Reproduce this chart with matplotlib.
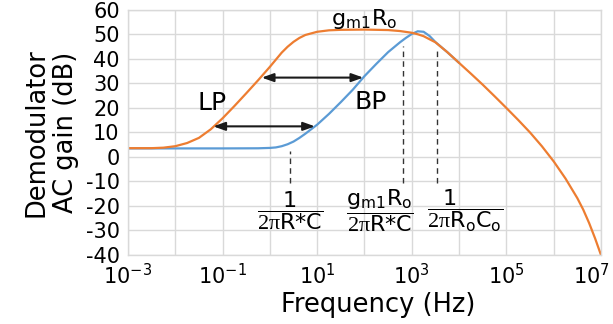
import numpy as np
import matplotlib.pyplot as plt
from matplotlib.transforms import ScaledTranslation

plt.rcParams['font.family'] = 'DejaVu Sans'
plt.rcParams['mathtext.fontset'] = 'custom'
plt.rcParams['mathtext.rm'] = 'Liberation Serif'
plt.rcParams['mathtext.sf'] = 'DejaVu Sans'
plt.rcParams['mathtext.it'] = 'DejaVu Sans:italic'
plt.rcParams['mathtext.bf'] = 'DejaVu Sans:bold'

# low-pass response: log10(f / Hz) and gain in dB
lp_logf = [-3.0, -2.5, -2.25, -2.0, -1.75, -1.5, -1.25, -1.0, -0.75, -0.5, -0.25,
           0.0, 0.25, 0.375, 0.5, 0.625, 0.75, 1.0, 1.25, 1.5, 2.0, 2.5, 2.75, 3.0,
           3.125, 3.25, 3.5, 3.75, 4.0, 4.25, 4.5, 4.75, 5.0, 5.25, 5.5, 5.75, 6.0,
           6.25, 6.5, 6.625, 6.75, 6.875, 7.0]
lp_gain = [3.6, 3.6, 3.8, 4.4, 5.7, 7.8, 11.3, 15.8, 20.8, 26.0, 31.3,
           36.8, 42.6, 45.0, 47.0, 48.6, 49.8, 51.1, 51.7, 51.9, 52.0, 51.8, 51.4, 50.7,
           50.1, 49.3, 46.8, 42.8, 38.4, 34.0, 29.5, 24.8, 20.0, 15.1, 10.0, 4.4, -1.8,
           -8.8, -16.8, -21.5, -27.0, -33.2, -40.0]

# band-pass response
bp_logf = [-3.0, -1.0, -0.25, 0.0, 0.125, 0.25, 0.375, 0.5, 0.625, 0.75, 1.0, 1.25,
           1.5, 1.75, 2.0, 2.25, 2.5, 2.75, 2.875, 3.0, 3.125, 3.25, 3.375, 3.5, 3.75,
           4.0]
bp_gain = [3.5, 3.5, 3.55, 3.7, 3.9, 4.4, 5.2, 6.3, 7.8, 9.5, 13.2, 17.6,
           22.4, 27.4, 33.0, 38.0, 42.8, 46.8, 48.6, 50.2, 51.3, 51.1, 49.4, 46.9, 42.8,
           38.4]

# corner frequencies (log10) with the extent of their marker lines
corner_logf = [0.425, 2.81, 3.54]
corner_top = [2.5, 45.5, 44.5]
corner_bottom = -10.5

corner_labels = [r'$\dfrac{\mathsf{1}}{\mathrm{2\pi}\mathsf{R{*}C}}$',
                 r'$\dfrac{\mathsf{g_{m1}R_o}}{\mathrm{2\pi}\mathsf{R{*}C}}$',
                 r'$\dfrac{\mathsf{1}\hspace{1.4}}{\mathrm{2\pi}\mathsf{R_oC_o}}$']
label_logf = [0.425, 2.33, 4.12]
label_gain = -22.0

# arrows showing the shift between the two responses
arrow_gain = [32.4, 12.5]
arrow_from = [-0.173, -1.197]
arrow_to = [1.975, 0.953]

xtick_pos = list(range(-3, 8))
xtick_labels = [r'$\mathsf{10^{%d}}$' % p if p % 2 else '' for p in xtick_pos]
ytick_pos = list(range(-40, 70, 10))
ytick_labels = [str(v) for v in ytick_pos]

orange = '#ED7D31'
blue = '#5B9BD5'
grid_col = '#d9d9d9'

fig = plt.figure(figsize=(6.13, 3.24), dpi=100)
ax = fig.add_axes([0.2088, 0.2130, 0.7716, 0.7562])

ax.plot(10 ** np.array(bp_logf), bp_gain, color=blue, lw=1.6, solid_capstyle='round')
ax.plot(10 ** np.array(lp_logf), lp_gain, color=orange, lw=1.6, solid_capstyle='round')

ax.set_xscale('log')
ax.set_xlim(1e-3, 1e7)
ax.set_ylim(-40, 60)
ax.set_xticks([10.0 ** p for p in xtick_pos])
ax.set_xticklabels(xtick_labels)
ax.minorticks_off()
ax.set_yticks(ytick_pos)
ax.set_yticklabels(ytick_labels)
ax.tick_params(length=0, labelsize=15, pad=6)
ax.grid(True, color=grid_col, lw=1.0)
ax.set_axisbelow(True)
for s in ax.spines.values():
    s.set_color(grid_col)
    s.set_linewidth(1.0)

# keep the last decade label inside the figure
last = ax.get_xticklabels()[-1]
last.set_transform(last.get_transform() + ScaledTranslation(-7 / 72, 0, fig.dpi_scale_trans))

ax.set_xlabel('Frequency (Hz)', fontsize=18.5, labelpad=1)
ax.xaxis.set_label_coords(0.53, -0.15)
ax.set_ylabel('Demodulator\nAC gain (dB)', fontsize=18.5, labelpad=5, linespacing=1.15)

for lf, top in zip(corner_logf, corner_top):
    ax.plot([10 ** lf, 10 ** lf], [corner_bottom, top], color='#333333', lw=1.0,
            ls=(0, (4, 3)))

for lbl, lf in zip(corner_labels, label_logf):
    ax.text(10 ** lf, label_gain, lbl, fontsize=16, ha='center', va='center')

for g, a, b in zip(arrow_gain, arrow_from, arrow_to):
    ax.annotate('', xy=(10 ** b, g), xytext=(10 ** a, g),
                arrowprops=dict(arrowstyle='<|-|>,head_length=0.7,head_width=0.25',
                                color='#1a1a1a', lw=1.5, shrinkA=0, shrinkB=0))

ax.text(10 ** -1.22, 21.9, 'LP', fontsize=18, ha='center', va='center')
ax.text(10 ** 2.14, 22.3, 'BP', fontsize=18, ha='center', va='center')
ax.text(10 ** 1.99, 53.8, r'$\mathsf{g_{m1}R_o}$', fontsize=16, ha='center', va='baseline')

fig.savefig('out.png', dpi=100)
